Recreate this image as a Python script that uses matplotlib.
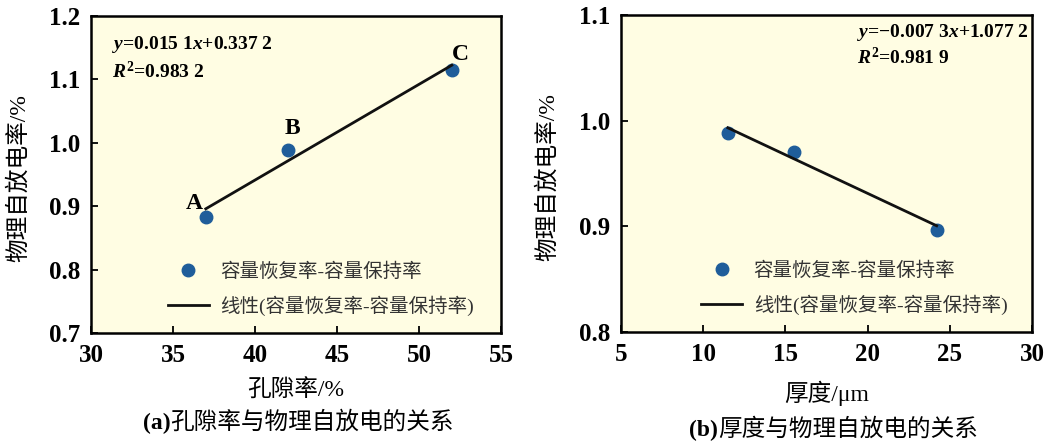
import matplotlib
matplotlib.use("Agg")
import matplotlib.pyplot as plt

plt.rcParams['font.family'] = ['Liberation Serif', 'Noto Sans CJK SC']
plt.rcParams['mathtext.fontset'] = 'custom'
plt.rcParams['mathtext.rm'] = 'Liberation Serif:bold'
plt.rcParams['mathtext.it'] = 'Liberation Serif:bold:italic'

# panel (a): porosity vs physical self-discharge
por_x = [37, 42, 52]
por_y = [0.883, 0.988, 1.115]
por_lbl = ['A', 'B', 'C']
por_k, por_b = 0.0151, 0.3372

# panel (b): thickness vs physical self-discharge
thk_x = [11.5, 15.5, 24.2]
thk_y = [0.988, 0.970, 0.897]
thk_k, thk_b = -0.0073, 1.0772

bg = '#fffde3'
dot = '#1f5d9a'
leg_pt = '容量恢复率-容量保持率'
leg_ln = '线性(容量恢复率-容量保持率)'
cjk = ['Liberation Serif', 'Noto Sans CJK SC']

fig = plt.figure(figsize=(10.59, 4.43), dpi=100)
W, H = 1059, 443
axa = fig.add_axes([91 / W, 1 - 333 / H, 410 / W, 317 / H])
axb = fig.add_axes([621 / W, 1 - 332 / H, 411 / W, 317 / H])


def style(ax, xlim, ylim, xt, yt, yfmt):
    ax.set_facecolor(bg)
    ax.set_xlim(*xlim)
    ax.set_ylim(*ylim)
    ax.set_xticks(xt)
    ax.set_yticks(yt)
    ax.set_yticklabels([yfmt % v for v in yt])
    ax.tick_params(direction='in', length=5, width=1.3, labelsize=18, pad=8)
    for l in ax.get_xticklabels() + ax.get_yticklabels():
        l.set_fontweight('bold')
    for s in ax.spines.values():
        s.set_linewidth(1.8)


def fitline(ax, xs, k, b):
    x0, x1 = min(xs), max(xs)
    ax.plot([x0, x1], [k * x0 + b, k * x1 + b], color='#111111', lw=2, label=leg_ln)


def caption(x, y, tag, rest):
    t = fig.text(x / W, 1 - y / H, tag, fontsize=17, fontweight='bold', family=cjk,
                 ha='left', va='baseline')
    fig.text(0, 0, rest, fontsize=17, family=cjk, ha='left', va='baseline',
             transform=matplotlib.transforms.offset_copy(t.get_transform(), fig=fig, x=0, y=0))
    return t


# (a)
style(axa, (30, 55), (0.7, 1.2), range(30, 56, 5), [0.7, 0.8, 0.9, 1.0, 1.1, 1.2], '%.1f')
axa.plot(por_x, por_y, 'o', color=dot, ms=9, label=leg_pt)
fitline(axa, por_x, por_k, por_b)
lbl_off = [(-0.7, 0.022), (0.3, 0.034), (0.5, 0.025)]
for x, y, t, (dx, dy) in zip(por_x, por_y, por_lbl, lbl_off):
    axa.text(x + dx, y + dy, t, fontsize=17, fontweight='bold', ha='center', va='center')
axa.text(0.05, 0.91, r'$y$=0.015 1$x$+0.337 2', transform=axa.transAxes, fontsize=14,
         fontweight='bold', va='center')
axa.text(0.05, 0.825, r'$R^2$=0.983 2', transform=axa.transAxes, fontsize=14,
         fontweight='bold', va='center')
axa.set_xlabel('孔隙率/%', fontsize=17, family=cjk)
axa.set_ylabel('物理自放电率/%', fontsize=17, family=cjk)
axa.xaxis.set_label_coords(0.5, -0.148)
axa.yaxis.set_label_coords(-0.149, 0.49)

# (b)
style(axb, (5, 30), (0.8, 1.1), range(5, 31, 5), [0.8, 0.9, 1.0, 1.1], '%.1f')
axb.plot(thk_x, thk_y, 'o', color=dot, ms=9, label=leg_pt)
fitline(axb, thk_x, thk_k, thk_b)
axb.text(0.575, 0.945, r'$y$=$-$0.007 3$x$+1.077 2', transform=axb.transAxes, fontsize=14,
         fontweight='bold', va='center')
axb.text(0.575, 0.865, r'$R^2$=0.981 9', transform=axb.transAxes, fontsize=14,
         fontweight='bold', va='center')
axb.set_xlabel('厚度/μm', fontsize=17, family=cjk)
axb.set_ylabel('物理自放电率/%', fontsize=17, family=cjk)
axb.xaxis.set_label_coords(0.5, -0.155)
axb.yaxis.set_label_coords(-0.151, 0.49)

for ax, x0 in ((axa, 0.188), (axb, 0.195)):
    leg = ax.legend(loc='lower left', bbox_to_anchor=(x0, 0.055), frameon=False,
                    prop={'family': cjk, 'size': 14}, handlelength=2.1, handletextpad=0.6,
                    labelspacing=0.75, borderpad=0, borderaxespad=0)
    for t in leg.get_texts():
        t.set_color('#333333')

# captions: bold tag followed by regular text
fig.canvas.draw()
r = fig.canvas.get_renderer()
for x, y, tag, rest in ((143, 429, '(a)', '孔隙率与物理自放电的关系'),
                        (689, 436, '(b)', '厚度与物理自放电的关系')):
    t = fig.text(x / W, 1 - y / H, tag, fontsize=17, fontweight='bold', family=cjk,
                 ha='left', va='baseline')
    wpx = t.get_window_extent(renderer=r).width
    fig.text((x + wpx) / W, 1 - y / H, rest, fontsize=17, family=cjk, ha='left', va='baseline')

fig.savefig('out.png', dpi=100)
